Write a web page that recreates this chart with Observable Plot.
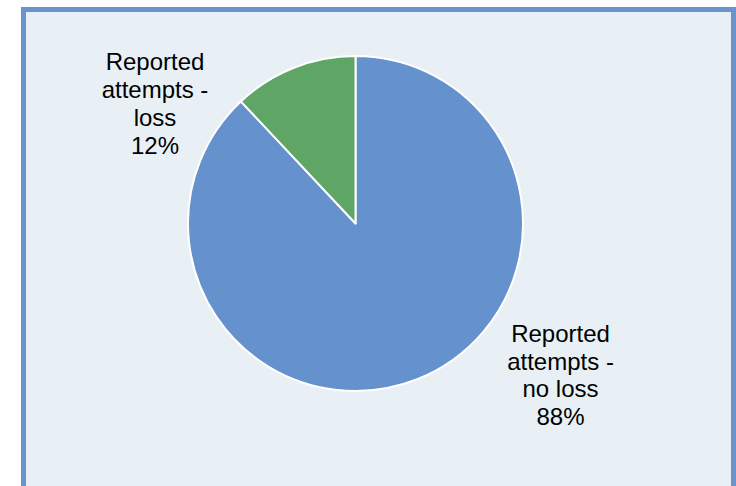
<!DOCTYPE html>
<html>
<head>
<meta charset="utf-8">
<script src="https://cdn.jsdelivr.net/npm/d3@7"></script>
<script src="https://cdn.jsdelivr.net/npm/@observablehq/plot@0.6"></script>
<style>
  html, body { margin: 0; padding: 0; background: #ffffff; }
  #wrap { position: relative; width: 736px; height: 486px; overflow: hidden; }
  #frame { position: absolute; left: 21px; top: 7px; width: 715px; height: 520px;
           box-sizing: border-box; border: 5px solid #6B93CD; background: #E8F0F5; }
  #chart { position: absolute; left: 0; top: 0; }
</style>
</head>
<body>
<div id="wrap">
  <div id="frame"></div>
  <div id="chart"></div>
</div>
<script>
// Data
const categories = ["Reported attempts - no loss", "Reported attempts - loss"];
const labelLines = [["Reported", "attempts -", "no loss"], ["Reported", "attempts -", "loss"]];
const percents = [88, 12];
const colors = ["#6591CD", "#5FA566"];

// Layout (label anchor points in the pie's unit coordinates)
const labelPos = [{x: 1.221, y: -0.9}, {x: -1.2, y: 0.722}];

const slices = d3.pie().sort(null).value(d => d.value)(
  categories.map((c, i) => ({category: c, value: percents[i], color: colors[i]}))
);

const labels = categories.map((c, i) => ({
  text: labelLines[i].join("\n") + "\n" + percents[i] + "%",
  x: labelPos[i].x,
  y: labelPos[i].y
}));

function pieMark(index, scales) {
  const cx = scales.x(0), cy = scales.y(0);
  const r = (scales.x(1) - scales.x(-1)) / 2;
  const arc = d3.arc().innerRadius(0).outerRadius(r);
  const g = d3.create("svg:g").attr("transform", `translate(${cx},${cy})`);
  g.selectAll("path").data(slices).join("path")
    .attr("d", arc)
    .attr("fill", d => d.data.color)
    .attr("stroke", "#ffffff")
    .attr("stroke-width", 2)
    .attr("stroke-linejoin", "round");
  return g.node();
}

const plot = Plot.plot({
  width: 736,
  height: 486,
  marginLeft: 188,
  marginRight: 213,
  marginTop: 56,
  marginBottom: 95,
  x: {domain: [-1, 1], axis: null},
  y: {domain: [-1, 1], axis: null},
  style: {background: "none", fontFamily: "'Liberation Sans', Arial, sans-serif"},
  marks: [
    pieMark,
    Plot.text(labels, {
      x: "x", y: "y", text: "text",
      fontSize: 24, lineHeight: 1.155, fill: "#000000",
      textAnchor: "middle", lineAnchor: "middle"
    })
  ]
});
document.getElementById("chart").appendChild(plot);
</script>
</body>
</html>
